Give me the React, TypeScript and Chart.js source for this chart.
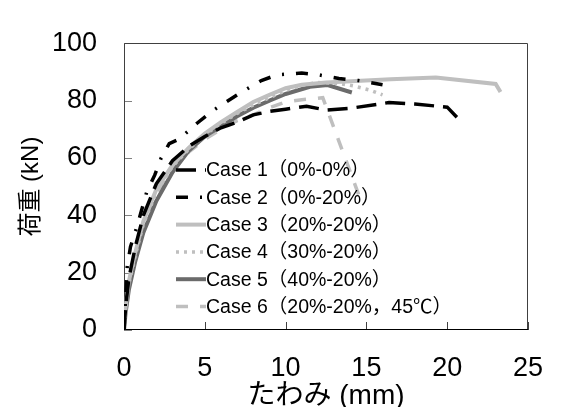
import React, { useEffect, useRef } from "react";
import { Chart, registerables } from "chart.js";

Chart.register(...registerables);

// ---- data ----
const seriesNames = [
  "Case 1（0%-0%）",
  "Case 2（0%-20%）",
  "Case 3（20%-20%）",
  "Case 4（30%-20%）",
  "Case 5（40%-20%）",
  "Case 6（20%-20%，45℃）",
];

const case1X = [0, 0.1, 0.3, 0.7, 1.2, 2, 3, 4, 5, 6, 7, 8, 9, 10, 11.3, 12.5, 14, 16.4, 18, 20, 20.6];
const case1Y = [0, 8, 18, 29, 40, 51, 59, 64, 67.5, 70.5, 72.5, 75, 76.2, 77, 78, 76.7, 77.3, 79.3, 78.8, 77.7, 74.2];

const case2X = [0, 0.2, 0.4, 0.8, 1.1, 1.4, 1.9, 2.3, 2.8, 3.4, 4.5, 5.5, 7, 8.5, 9.5, 11, 12, 13.3, 14.5, 16];
const case2Y = [0, 22, 29, 36, 42, 48, 54, 60, 65, 66.5, 72, 76.5, 82, 87, 89, 89.6, 89, 87.7, 87, 85.5];

const case3X = [0, 0.1, 0.3, 0.7, 1.2, 2, 3, 4, 5, 6, 7, 8, 9, 10, 11, 12.5, 16.5, 19.3, 23, 23.3];
const case3Y = [0, 8, 17, 27, 38, 49, 57.5, 63.5, 68.5, 72.5, 76, 79.5, 82, 84.3, 85.5, 86.3, 87.4, 88, 85.8, 83];

const case4X = [0, 0.1, 0.3, 0.7, 1.2, 2, 3, 4, 5, 6, 7, 8, 9, 10, 11, 12, 13.3, 14.3, 15.3, 16];
const case4Y = [0, 7, 16, 26, 37, 48, 57, 63, 68, 72, 75.5, 78.5, 81, 83.5, 85.3, 86.3, 86, 85, 83.5, 82];

const case5X = [0, 0.1, 0.3, 0.7, 1.2, 2, 3, 4, 5, 6, 7, 8, 9, 10, 11.5, 12.6, 14.1];
const case5Y = [0, 6, 14, 24, 34, 45, 55, 62.5, 67.5, 71, 74.5, 77.5, 80, 82.3, 84.8, 85.4, 82.8];

const case6X = [0, 0.1, 0.3, 0.7, 1.2, 2, 3, 4, 5, 6, 7, 8, 9, 10, 11, 12.3, 14.6];
const case6Y = [0, 6, 15, 25, 36, 47, 56, 62, 66.5, 70, 73, 75, 77.5, 79.5, 80.3, 81, 46];

const xTicks = [0, 5, 10, 15, 20, 25];
const yTicks = [0, 20, 40, 60, 80, 100];

const xTitle = "たわみ (mm)";
const yTitle = "荷重 (kN)";

// ---- styles ----
const FONT = "'Liberation Sans', Arial, 'Noto Sans CJK JP', sans-serif";
const seriesX = [case1X, case2X, case3X, case4X, case5X, case6X];
const seriesY = [case1Y, case2Y, case3Y, case4Y, case5Y, case6Y];
const seriesStyle = [
  { color: "#000000", dash: [20, 9], width: 3.5 },
  { color: "#000000", dash: [12, 12, 2, 12], width: 3.5 },
  { color: "#bfbfbf", dash: [], width: 4 },
  { color: "#bfbfbf", dash: [3, 5], width: 3.5 },
  { color: "#6b6b6b", dash: [], width: 4 },
  { color: "#bfbfbf", dash: [12, 12], width: 3.5 },
];

const toPoints = (xs: number[], ys: number[]) => xs.map((x, i) => ({ x, y: ys[i] }));

const framePlugin = {
  id: "frameTicks",
  beforeDatasetsDraw(chart: any) {
    const { ctx, chartArea, scales } = chart;
    const { left, right, top, bottom } = chartArea;
    ctx.save();
    ctx.lineWidth = 1;
    ctx.strokeStyle = "#808080";
    yTicks.forEach((v) => {
      const py = Math.round(scales.y.getPixelForValue(v)) + 0.5;
      ctx.beginPath();
      ctx.moveTo(left, py);
      ctx.lineTo(left + 8, py);
      ctx.stroke();
    });
    ctx.strokeStyle = "#404040";
    xTicks.forEach((v) => {
      const px = Math.round(scales.x.getPixelForValue(v)) + 0.5;
      ctx.beginPath();
      ctx.moveTo(px, bottom);
      ctx.lineTo(px, bottom - 8);
      ctx.stroke();
    });
    ctx.strokeStyle = "#404040";
    ctx.beginPath();
    ctx.moveTo(Math.round(left) + 0.5, Math.round(bottom));
    ctx.lineTo(Math.round(left) + 0.5, Math.round(top) + 0.5);
    ctx.lineTo(Math.round(right) - 0.5, Math.round(top) + 0.5);
    ctx.lineTo(Math.round(right) - 0.5, Math.round(bottom));
    ctx.stroke();
    ctx.strokeStyle = "#000000";
    ctx.beginPath();
    ctx.moveTo(Math.round(left), Math.round(bottom) - 0.5);
    ctx.lineTo(Math.round(right), Math.round(bottom) - 0.5);
    ctx.stroke();
    ctx.restore();
  },
};

const LEGEND_X = 176;
const LEGEND_Y = 170;
const LEGEND_ROW = 27.3;
const LEGEND_SAMPLE = 30;

const legendPlugin = {
  id: "insideLegend",
  afterDraw(chart: any) {
    const ctx = chart.ctx;
    ctx.save();
    chart.data.datasets.forEach((ds: any, i: number) => {
      const y = LEGEND_Y + i * LEGEND_ROW;
      ctx.beginPath();
      ctx.strokeStyle = ds.borderColor;
      ctx.lineWidth = ds.borderWidth;
      ctx.setLineDash(ds.borderDash || []);
      ctx.lineCap = "butt";
      ctx.moveTo(LEGEND_X, y);
      ctx.lineTo(LEGEND_X + LEGEND_SAMPLE, y);
      ctx.stroke();
      ctx.setLineDash([]);
      ctx.fillStyle = "#000000";
      ctx.font = `19.5px ${FONT}`;
      ctx.textBaseline = "middle";
      ctx.textAlign = "left";
      ctx.fillText(ds.label, LEGEND_X + LEGEND_SAMPLE, y + 1);
    });
    ctx.restore();
  },
};

export default function App() {
  const canvasRef = useRef<HTMLCanvasElement | null>(null);

  useEffect(() => {
    if (!canvasRef.current) return;
    const datasets = seriesNames.map((name, i) => ({
      label: name,
      data: toPoints(seriesX[i], seriesY[i]),
      borderColor: seriesStyle[i].color,
      backgroundColor: seriesStyle[i].color,
      borderWidth: seriesStyle[i].width,
      borderDash: seriesStyle[i].dash,
      pointRadius: 0,
      tension: 0,
      fill: false,
      showLine: true,
    }));

    const chart = new Chart(canvasRef.current, {
      type: "scatter",
      data: { datasets },
      options: {
        animation: false,
        responsive: false,
        devicePixelRatio: 1,
        layout: { padding: { top: 21, right: 23, left: 0, bottom: 0 } },
        plugins: { legend: { display: false }, tooltip: { enabled: false } },
        scales: {
          x: {
            type: "linear",
            min: 0,
            max: 25,
            afterBuildTicks: (s: any) => {
              s.ticks = xTicks.map((v) => ({ value: v }));
            },
            afterFit: (s: any) => {
              s.height = 77;
            },
            grid: { display: false, drawTicks: false },
            border: { display: false },
            ticks: {
              color: "#000",
              font: { family: FONT, size: 27 },
              padding: 22,
              maxRotation: 0,
              autoSkip: false,
            },
            title: {
              display: true,
              text: xTitle,
              color: "#000",
              font: { family: FONT, size: 28, lineHeight: 0.8 },
              padding: 0,
            },
          },
          y: {
            type: "linear",
            min: 0,
            max: 100,
            afterBuildTicks: (s: any) => {
              s.ticks = yTicks.map((v) => ({ value: v }));
            },
            afterFit: (s: any) => {
              s.width = 124;
            },
            grid: { display: false, drawTicks: false },
            border: { display: false },
            ticks: {
              color: "#000",
              font: { family: FONT, size: 27 },
              padding: 27,
              autoSkip: false,
            },
            title: {
              display: true,
              text: yTitle,
              color: "#000",
              font: { family: FONT, size: 24 },
              padding: { top: 17, bottom: 0 },
            },
          },
        },
      },
      plugins: [framePlugin, legendPlugin],
    } as any);

    return () => chart.destroy();
  }, []);

  return (
    <div style={{ position: "fixed", left: 0, top: 0, width: 565, height: 407, background: "#fff" }}>
      <canvas ref={canvasRef} width={565} height={407} style={{ display: "block" }} />
    </div>
  );
}
